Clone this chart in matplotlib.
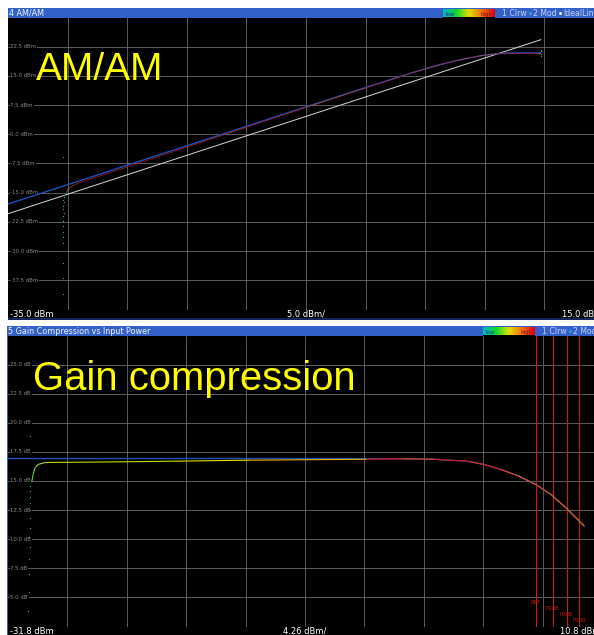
import numpy as np
import matplotlib.pyplot as plt
from matplotlib.collections import LineCollection
from matplotlib.colors import LinearSegmentedColormap

W, H = 594, 635

# --- AM/AM window data (input dBm -> output dBm) ---
amam_xrange = (-35.0, 15.0)
amam_yrange = (-45.0, 30.0)
amam_ylabels = [22.5, 15.0, 7.5, 0.0, -7.5, -15.0, -22.5, -30.0, -37.5]

ideal_pin = [-35.0, 9.7]
ideal_pout = [-20.4, 24.3]

model_pin = [-35.0, -30.0, -20.0, -10.0, -5.0, -1.0, 1.0, 2.3, 3.5, 4.7, 6.0, 7.1, 8.2, 9.7]
model_pout = [-17.9, -12.95, -2.95, 7.05, 12.0, 15.9, 17.7, 18.7, 19.5, 20.2, 20.7, 20.9, 20.9, 20.9]

meas_pin = [-30.1, -30.0, -29.8, -29.5, -29.0, -25.0, -20.0, -15.0, -10.0, -5.0, -1.0,
            1.0, 2.3, 3.5, 4.7, 6.0, 7.1, 8.2, 9.5, 9.7]
meas_pout = [-15.0, -14.3, -13.6, -13.1, -12.4, -8.4, -3.3, 1.8, 6.9, 11.9, 15.9,
             17.7, 18.7, 19.5, 20.2, 20.7, 20.9, 20.9, 20.7, 20.6]
meas_hits = [0.4, 0.75, 0.8, 0.85, 0.9, 0.95, 0.9, 0.95, 0.85, 0.95, 0.9,
             0.95, 0.9, 0.95, 0.85, 0.95, 0.9, 0.95, 0.5, 0.5]

noise_pin = [-30.35, -30.3, -30.3, -30.35, -30.3, -30.4, -30.35, -30.3, -30.4, -30.35,
             -30.4, -30.35, -30.4, -30.4, -30.35, -30.4, -30.4]
noise_pout = [-5.8, -15.6, -16.2, -16.8, -17.5, -18.3, -19.2, -20.1, -21.0, -22.3,
              -23.5, -25.0, -26.5, -28.0, -33.0, -37.0, -41.0]

amam_tail_pin = [9.7, 9.7, 9.7, 9.7]
amam_tail_pout = [20.1, 20.5, 21.3, 21.7]

# --- gain compression window data (input dBm -> gain dB) ---
gain_xrange = (-31.8, 10.8)
gain_yrange = (2.5, 27.5)
gain_ylabels = [25.0, 22.5, 20.0, 17.5, 15.0, 12.5, 10.0, 7.5, 5.0]

gain_model_pin = [-31.8, -10.0, -3.6, -1.25, 1.15, 2.35, 3.54, 4.74, 6.06, 7.14, 8.21, 9.53]
gain_model_db = [16.93, 16.93, 16.91, 16.87, 16.70, 16.42, 15.99, 15.47, 14.70, 13.84, 12.70, 11.12]

gain_meas_pin = [-30.1, -30.0, -29.86, -29.64, -29.14, -25.2, -20.0, -14.4, -6.1, -3.6,
                 -1.25, 1.15, 2.35, 3.54, 4.74, 6.06, 7.14, 8.21, 9.53]
gain_meas_db = [14.9, 15.56, 16.16, 16.42, 16.59, 16.63, 16.70, 16.79, 16.87, 16.91,
                16.87, 16.70, 16.42, 15.99, 15.47, 14.70, 13.84, 12.70, 11.12]
gain_meas_hits = [0.33, 0.36, 0.4, 0.42, 0.44, 0.46, 0.5, 0.6, 0.95, 0.85,
                  0.95, 0.9, 0.95, 0.85, 0.8, 0.85, 0.8, 0.78, 0.75]

gain_noise_pin = [-30.25, -30.2, -30.2, -30.25, -30.2, -30.25, -30.2, -30.25, -30.3,
                  -30.25, -30.3, -30.3, -30.3, -30.35]
gain_noise_db = [18.9, 14.6, 14.1, 13.6, 13.1, 12.5, 11.8, 11.0, 10.2, 9.3, 8.3, 7.0, 5.5, 3.8]

marker_names = ["REF", "P1dB", "P2dB", "P3dB"]
marker_pin = [6.06, 7.26, 8.26, 9.17]

hits_cmap = LinearSegmentedColormap.from_list(
    "hits", ["#00b4d0", "#10d830", "#e0e000", "#f07010", "#e00010"])

BAR_BLUE = "#3461c9"
GRID = "#6a6a6a"
LABEL = "#8a8a8a"
MODEL_BLUE = "#1f4fb8"
MARKER_RED = "#c41a1a"


def box(x0, y0, x1, y1):
    return [x0 / W, 1 - y1 / H, (x1 - x0) / W, (y1 - y0) / H]


def bare(ax, face):
    ax.set_facecolor(face)
    ax.set_xticks([])
    ax.set_yticks([])
    for s in ax.spines.values():
        s.set_visible(False)


def title_bar(fig, x0, y0, x1, y1, title, bar_x, legend):
    tb = fig.add_axes(box(x0, y0, x1, y1))
    bare(tb, BAR_BLUE)
    tb.set_xlim(x0, x1)
    tb.set_ylim(0, 1)
    tb.text(x0 + 1, 0.45, title, color="#f0f4ff", fontsize=5.8, va="center", ha="left")
    cb = fig.add_axes(box(bar_x, y0 + 1, bar_x + 52, y1))
    bare(cb, "black")
    cb.imshow(np.linspace(0, 1, 128)[None, :], cmap=hits_cmap, aspect="auto",
              extent=(0, 1, 0, 1))
    cb.text(0.04, 0.35, "low", color="#203080", fontsize=4, va="center")
    cb.text(0.96, 0.35, "high", color="#801010", fontsize=4, va="center", ha="right")
    x = bar_x + 59
    for txt, dot in legend:
        t = tb.text(x, 0.45, txt, color="#c8d2f4", fontsize=5.6, va="center", ha="left")
        fig.canvas.draw()
        x += t.get_window_extent().width + 2
        if dot:
            tb.plot([x + 1.2], [0.45], "o", ms=2.0, color=dot, mew=0)
            x += 4.2


def bottom_bar(fig, x0, y0, x1, y1, left, mid, right):
    bb = fig.add_axes(box(x0, y0, x1, y1))
    bare(bb, "black")
    bb.set_xlim(0, 1)
    bb.set_ylim(0, 1)
    kw = dict(color="white", fontsize=6, va="center")
    bb.text(0.004, 0.45, left, ha="left", **kw)
    bb.text(0.5, 0.45, mid, ha="center", **kw)
    bb.text(0.998, 0.45, right, ha="right", **kw)


def plot_area(fig, x0, y0, x1, y1, xr, yr, ylabels, unit):
    ax = fig.add_axes(box(x0, y0, x1, y1))
    bare(ax, "black")
    ax.set_xlim(*xr)
    ax.set_ylim(*yr)
    for v in np.linspace(xr[0], xr[1], 11)[1:-1]:
        ax.axvline(v, color=GRID, lw=0.6, zorder=1)
    for v in np.linspace(yr[0], yr[1], 11)[1:-1]:
        ax.axhline(v, color=GRID, lw=0.6, zorder=1)
    for v in ylabels:
        ax.text(0.004, v, f"{v:.1f} {unit}", transform=ax.get_yaxis_transform(),
                color=LABEL, fontsize=3.9, va="center", ha="left", zorder=2,
                bbox=dict(boxstyle="square,pad=0.15", fc="black", ec="none"))
    return ax


def hit_trace(ax, xs, ys, hits, lw=0.5, alpha=0.75):
    pts = np.column_stack([xs, ys])
    segs = np.stack([pts[:-1], pts[1:]], axis=1)
    lc = LineCollection(segs, colors=hits_cmap(np.asarray(hits[:-1])), linewidths=lw,
                        alpha=alpha, zorder=5)
    ax.add_collection(lc)


fig = plt.figure(figsize=(W / 100, H / 100), dpi=100)
fig.patch.set_facecolor("white")

# ---- window 4: AM/AM ----
title_bar(fig, 8, 8, 604, 17.5, "4 AM/AM", 443,
          [("1 Clrw", "#3aa0e0"), ("2 Mod", "#ffffff"), ("IdealLin", None)])
ax1 = plot_area(fig, 8, 17.5, 604, 309.5, amam_xrange, amam_yrange, amam_ylabels, "dBm")
ax1.plot(ideal_pin, ideal_pout, color="#d8d8d8", lw=0.7, zorder=3)
ax1.plot(model_pin, model_pout, color=MODEL_BLUE, lw=1.0, zorder=4)
hit_trace(ax1, meas_pin, meas_pout, meas_hits)
ax1.scatter(noise_pin, noise_pout, s=0.7, color="#2fc090", lw=0, zorder=5)
ax1.scatter(amam_tail_pin, amam_tail_pout, s=0.7, color="#2fc090", lw=0, zorder=5)
ax1.text(0.047, 0.786, "AM/AM", transform=ax1.transAxes, color="#ffff00",
         fontsize=28, family="Liberation Sans", va="baseline", ha="left", zorder=6)
bottom_bar(fig, 8, 309.5, 604, 318, "-35.0 dBm", "5.0 dBm/", "15.0 dBm")
fig.add_artist(plt.Rectangle((8 / W, 1 - 320 / H), 1, 2 / H, transform=fig.transFigure,
                             color="#14245e", lw=0))

# ---- window 5: gain compression ----
title_bar(fig, 7, 326, 602, 335.5, "5 Gain Compression vs Input Power", 483,
          [("1 Clrw", "#3aa0e0"), ("2 Mod", None)])
ax2 = plot_area(fig, 8, 335.5, 602, 626.5, gain_xrange, gain_yrange, gain_ylabels, "dB")
ax2.plot(gain_model_pin, gain_model_db, color=MODEL_BLUE, lw=1.0, zorder=4)
hit_trace(ax2, gain_meas_pin, gain_meas_db, gain_meas_hits, lw=0.8, alpha=1.0)
ax2.scatter(gain_noise_pin, gain_noise_db, s=0.7, color="#2fc090", lw=0, zorder=5)
for i, (name, x) in enumerate(zip(marker_names, marker_pin)):
    ax2.axvline(x, color=MARKER_RED, lw=0.8, zorder=3)
    ax2.text(x, 4.6 - 0.52 * i, name, color=MARKER_RED, fontsize=3.9, ha="center",
             va="center", zorder=6)
ax2.text(0.042, 0.813, "Gain compression", transform=ax2.transAxes, color="#ffff00",
         fontsize=28.8, family="Liberation Sans", va="baseline", ha="left", zorder=6)
bottom_bar(fig, 8, 626.5, 602, 635, "-31.8 dBm", "4.26 dBm/", "10.8 dBm")
fig.add_artist(plt.Rectangle((7 / W, 0), 1.2 / W, 1 - 326 / H, transform=fig.transFigure,
                             color=BAR_BLUE, lw=0))

fig.savefig("out.png", dpi=100, facecolor="white")
